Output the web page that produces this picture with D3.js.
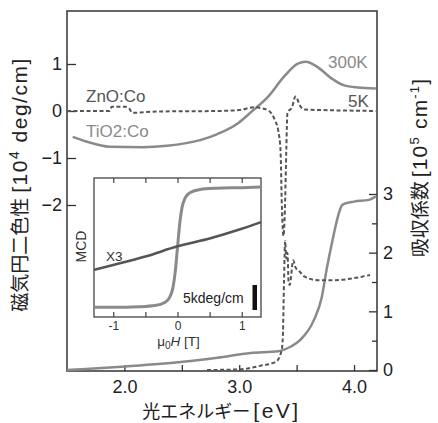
<!DOCTYPE html>
<html>
<head>
<meta charset="utf-8">
<script src="https://cdn.jsdelivr.net/npm/d3@7"></script>
<style>
body{margin:0;background:#fff;}
svg{display:block;}
</style>
</head>
<body>
<div id="chart"></div>
<script>

//MCD of TiO2:Co at 300K (left axis, 10^4 deg/cm)
const energyTiO2Mcd = [1.55,1.67,1.87,2.16,2.37,2.66,2.81,2.99,3.10,3.25,3.39,3.51,3.58,3.68,3.80,3.91,4.03,4.19];
const mcdTiO2 = [-0.55,-0.65,-0.76,-0.77,-0.74,-0.62,-0.49,-0.26,-0.03,0.30,0.73,1.01,1.05,0.94,0.70,0.55,0.50,0.48];

//MCD of ZnO:Co at 5K (left axis)
const energyZnOMcd = [1.50,1.87,1.89,2.01,2.04,2.07,2.14,2.31,2.80,3.00,3.13,3.19,3.26,3.31,3.34,3.36,3.37,3.385,3.395,3.40,3.41,3.42,3.46,3.49,3.53,3.57,3.72,4.19];
const mcdZnO = [0.0,0.0,0.09,0.09,0.06,-0.04,-0.03,-0.01,0.0,0.02,0.08,0.06,0.0,-0.19,-0.42,-0.85,-1.9,-2.66,-2.3,-1.9,-0.83,-0.04,0.08,0.31,0.11,0.03,0.02,0.0];

//absorption of ZnO:Co (right axis, 10^5 cm-1)
const energyZnOAbs = [2.72,3.00,3.18,3.32,3.37,3.38,3.39,3.40,3.41,3.42,3.43,3.44,3.47,3.49,3.53,3.57,3.69,3.83,3.98,4.14];
const absZnO = [0.0,0.01,0.07,0.14,0.34,0.57,1.5,2.2,1.9,2.0,1.5,1.45,1.87,1.75,1.67,1.59,1.53,1.53,1.56,1.62];

//absorption of TiO2:Co (right axis)
const energyTiO2Abs = [1.50,1.70,2.01,2.51,2.81,3.10,3.34,3.45,3.53,3.65,3.72,3.76,3.82,3.86,3.90,4.00,4.13,4.19];
const absTiO2 = [0.0,0.02,0.06,0.14,0.21,0.29,0.32,0.40,0.51,0.85,1.25,1.70,2.28,2.62,2.82,2.87,2.90,2.96];

//inset: MCD vs field
const fieldLoop = [-1.3,-1.0,-0.6,-0.35,-0.2,-0.12,-0.07,-0.035,0,0.035,0.07,0.12,0.2,0.35,0.6,1.0,1.3];
const mcdLoop = [-0.99,-0.99,-0.98,-0.96,-0.91,-0.82,-0.66,-0.40,0,0.40,0.66,0.82,0.91,0.96,0.98,0.99,1.0];
const fieldX3 = [-1.3,-1.0,-0.5,0,0.5,1.0,1.3];
const mcdX3 = [-0.37,-0.29,-0.15,0.02,0.15,0.31,0.42];

//ticks
const energyTicks = [2.0,2.5,3.0,3.5,4.0];
const mcdTicks = [1,0,-1,-2];
const absTicks = [0,0.5,1,1.5,2,2.5,3];
const fieldTicks = [-1,-0.5,0,0.5,1];


const W = 438;
const H = 423;
const m = {t:11, r:377, b:371, l:67};
const inset = {t:178, r:261, b:317, l:94};

const fontLatin = '"Liberation Sans", Arial, sans-serif';
const fontCJK = '"Noto Sans CJK JP", sans-serif';
const grey = '#8a8a8a';
const dark = '#555';

const x = d3.scaleLinear().domain([1.5, 4.2]).range([m.l, m.r]);
const yL = d3.scaleLinear().domain([0, 1]).range([111, 64]);
const yR = d3.scaleLinear().domain([0, 3]).range([370, 194]);

const xi = d3.scaleLinear().domain([-1.3, 1.3]).range([inset.l, inset.r]);
const yi = d3.scaleLinear().domain([-1.15, 1.15]).range([inset.b, inset.t]);

const svg = d3.select('#chart')
	.append('svg')
	.attr('width', W)
	.attr('height', H);

//frame
svg.append('rect')
	.attr('x', m.l).attr('y', m.t)
	.attr('width', m.r - m.l).attr('height', m.b - m.t)
	.style('fill', 'none')
	.style('stroke', '#333')
	.style('stroke-width', 1.5);

//axes
const styleAxis = g => {
	g.select('.domain').remove();
	g.selectAll('line').style('stroke', '#333').style('stroke-width', 1.3);
	g.selectAll('text')
		.style('font-family', fontLatin)
		.style('font-size', '18px')
		.style('fill', '#222');
};

svg.append('g')
	.attr('transform', `translate(${m.l},0)`)
	.call(d3.axisLeft(yL).tickValues(mcdTicks).tickSize(-9).tickPadding(5).tickFormat(d3.format('d')))
	.call(styleAxis);

svg.append('g')
	.attr('transform', `translate(0,${m.b})`)
	.call(d3.axisBottom(x).tickValues(energyTicks).tickSize(-6).tickPadding(9)
		.tickFormat(d => Number.isInteger(d) ? d.toFixed(1) : ''))
	.call(styleAxis);

const rightAxis = svg.append('g')
	.attr('transform', `translate(${m.r},0)`)
	.call(d3.axisRight(yR).tickValues(absTicks).tickSize(-8).tickPadding(6)
		.tickFormat(d => Number.isInteger(d) ? d : ''))
	.call(styleAxis);
rightAxis.selectAll('.tick')
	.filter(d => !Number.isInteger(d))
	.select('line').attr('x2', -5);

//main curves
const lineL = d3.line().x(d => x(d[0])).y(d => yL(d[1])).curve(d3.curveMonotoneX);
const lineR = d3.line().x(d => x(d[0])).y(d => yR(d[1])).curve(d3.curveMonotoneX);

const curves = svg.append('g').attr('class','curves');

curves.append('path')
	.datum(d3.zip(energyTiO2Abs, absTiO2))
	.attr('d', lineR)
	.style('fill','none').style('stroke', grey).style('stroke-width', 2.5);

curves.append('path')
	.datum(d3.zip(energyZnOAbs, absZnO))
	.attr('d', lineR)
	.style('fill','none').style('stroke', dark).style('stroke-width', 2)
	.style('stroke-dasharray', '4,2.5');

curves.append('path')
	.datum(d3.zip(energyTiO2Mcd, mcdTiO2))
	.attr('d', lineL)
	.style('fill','none').style('stroke', grey).style('stroke-width', 2.5);

curves.append('path')
	.datum(d3.zip(energyZnOMcd, mcdZnO))
	.attr('d', lineL)
	.style('fill','none').style('stroke', dark).style('stroke-width', 2)
	.style('stroke-dasharray', '4,2.5');

//curve labels
const labels = [
	{t:'ZnO:Co', x:86, y:102, c:dark},
	{t:'TiO2:Co', x:86, y:137, c:grey},
	{t:'300K', x:328, y:68, c:grey},
	{t:'5K', x:348, y:107, c:dark}
];
svg.selectAll('.curve-label')
	.data(labels)
	.enter()
	.append('text')
	.attr('class','curve-label')
	.attr('x', d => d.x).attr('y', d => d.y)
	.text(d => d.t)
	.style('font-family', fontLatin)
	.style('font-size', '17px')
	.style('fill', d => d.c);

//inset
const gi = svg.append('g').attr('class','inset');

gi.append('rect')
	.attr('x', inset.l).attr('y', inset.t)
	.attr('width', inset.r - inset.l).attr('height', inset.b - inset.t)
	.style('fill', '#fff')
	.style('stroke', '#444')
	.style('stroke-width', 1.3);

const styleInsetAxis = g => {
	g.select('.domain').remove();
	g.selectAll('line').style('stroke', '#444').style('stroke-width', 1.2);
	g.selectAll('text')
		.style('font-family', fontLatin)
		.style('font-size', '12px')
		.style('fill', '#333');
};

gi.append('g')
	.attr('transform', `translate(0,${inset.b})`)
	.call(d3.axisBottom(xi).tickValues(fieldTicks).tickSize(-5).tickPadding(4)
		.tickFormat(d => Number.isInteger(d) ? d : ''))
	.call(styleInsetAxis);

gi.append('g')
	.attr('transform', `translate(0,${inset.t})`)
	.call(d3.axisTop(xi).tickValues(fieldTicks).tickSize(-5).tickFormat(''))
	.call(styleInsetAxis);

const lineI = d3.line().x(d => xi(d[0])).y(d => yi(d[1])).curve(d3.curveMonotoneX);

gi.append('path')
	.datum(d3.zip(fieldLoop, mcdLoop))
	.attr('d', lineI)
	.style('fill','none').style('stroke', grey).style('stroke-width', 3);

gi.append('path')
	.datum(d3.zip(fieldX3, mcdX3))
	.attr('d', lineI)
	.style('fill','none').style('stroke', dark).style('stroke-width', 2.6);

gi.append('text')
	.attr('x', 106).attr('y', 261)
	.text('X3')
	.style('font-family', fontLatin).style('font-size', '13.5px').style('fill', '#333');

gi.append('text')
	.attr('transform', 'translate(86,246.5) rotate(-90)')
	.attr('text-anchor', 'middle')
	.text('MCD')
	.style('font-family', fontLatin).style('font-size', '14px').style('fill', '#333');

gi.append('text')
	.attr('x', 183).attr('y', 303)
	.text('5kdeg/cm')
	.style('font-family', fontLatin).style('font-size', '14px').style('fill', '#222');

//scale bar 5kdeg/cm
gi.append('rect')
	.attr('x', 252.5).attr('y', 285)
	.attr('width', 4.5).attr('height', 25)
	.style('fill', '#111');

const fieldLabel = gi.append('text')
	.attr('x', 178.5).attr('y', 346)
	.attr('text-anchor', 'middle')
	.style('font-family', fontLatin).style('font-size', '13.5px').style('fill', '#333');
fieldLabel.append('tspan').text('μ');
fieldLabel.append('tspan').attr('dy', 3).style('font-size', '10px').text('0');
fieldLabel.append('tspan').attr('dy', -3).style('font-style', 'italic').text('H');
fieldLabel.append('tspan').text(' [T]');

//axis titles
const xTitle = svg.append('text')
	.attr('x', 221.5).attr('y', 418)
	.attr('text-anchor', 'middle')
	.style('fill', '#222');
xTitle.append('tspan').style('font-family', fontCJK).style('font-size', '18px').text('光エネルギー');
xTitle.append('tspan').attr('dx', 3).style('font-family', fontLatin).style('font-size', '21px')
	.style('letter-spacing', '2.5px').text('[eV]');

const yTitleL = svg.append('text')
	.attr('transform', 'translate(27,184.5) rotate(-90)')
	.attr('text-anchor', 'middle')
	.style('fill', '#222')
	.style('font-family', fontLatin)
	.style('font-size', '21px')
	.style('letter-spacing', '1.5px');
yTitleL.append('tspan').style('font-family', fontCJK).style('font-size', '19px').style('letter-spacing', '0px').text('磁気円二色性');
yTitleL.append('tspan').attr('dx', 5).text('[10');
yTitleL.append('tspan').attr('dy', -8).style('font-size', '14px').text('4');
yTitleL.append('tspan').attr('dy', 8).text(' deg/cm]');

const yTitleR = svg.append('text')
	.attr('transform', 'translate(427,167.5) rotate(-90)')
	.attr('text-anchor', 'middle')
	.style('fill', '#222')
	.style('font-family', fontLatin)
	.style('font-size', '21px')
	.style('letter-spacing', '1.2px');
yTitleR.append('tspan').style('font-family', fontCJK).style('font-size', '19px').style('letter-spacing', '0px').text('吸収係数');
yTitleR.append('tspan').attr('dx', 4).text('[10');
yTitleR.append('tspan').attr('dy', -8).style('font-size', '13px').text('5');
yTitleR.append('tspan').attr('dy', 8).text(' cm');
yTitleR.append('tspan').attr('dy', -8).style('font-size', '13px').text('-1');
yTitleR.append('tspan').attr('dy', 8).text(']');

</script>
</body>
</html>
